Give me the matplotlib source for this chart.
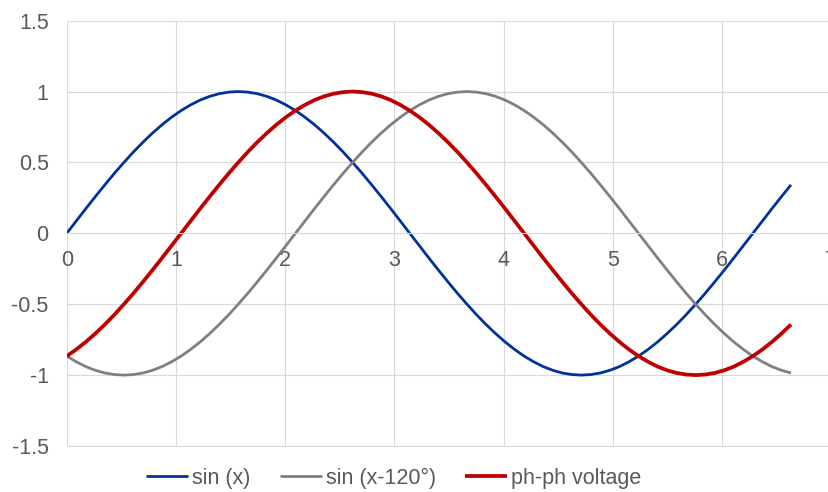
import matplotlib.pyplot as plt
import numpy as np

# angle in degrees, 5 degree steps from 0 to 380
angle_deg = np.arange(0, 381, 5)

sin_x = [0.0, 0.087, 0.174, 0.259, 0.342, 0.423, 0.5, 0.574, 0.643, 0.707,
         0.766, 0.819, 0.866, 0.906, 0.940, 0.966, 0.985, 0.996, 1.0,
         0.996, 0.985, 0.966, 0.940, 0.906, 0.866, 0.819, 0.766, 0.707,
         0.643, 0.574, 0.5, 0.423, 0.342, 0.259, 0.174, 0.087, 0.0,
         -0.087, -0.174, -0.259, -0.342, -0.423, -0.5, -0.574, -0.643, -0.707,
         -0.766, -0.819, -0.866, -0.906, -0.940, -0.966, -0.985, -0.996, -1.0,
         -0.996, -0.985, -0.966, -0.940, -0.906, -0.866, -0.819, -0.766, -0.707,
         -0.643, -0.574, -0.5, -0.423, -0.342, -0.259, -0.174, -0.087, 0.0,
         0.087, 0.174, 0.259, 0.342]

sin_x_120 = [-0.866, -0.906, -0.940, -0.966, -0.985, -0.996, -1.0,
             -0.996, -0.985, -0.966, -0.940, -0.906, -0.866, -0.819, -0.766,
             -0.707, -0.643, -0.574, -0.5, -0.423, -0.342, -0.259, -0.174,
             -0.087, 0.0,
             0.087, 0.174, 0.259, 0.342, 0.423, 0.5, 0.574, 0.643, 0.707,
             0.766, 0.819, 0.866, 0.906, 0.940, 0.966, 0.985, 0.996, 1.0,
             0.996, 0.985, 0.966, 0.940, 0.906, 0.866, 0.819, 0.766, 0.707,
             0.643, 0.574, 0.5, 0.423, 0.342, 0.259, 0.174, 0.087, 0.0,
             -0.087, -0.174, -0.259, -0.342, -0.423, -0.5, -0.574, -0.643,
             -0.707, -0.766, -0.819, -0.866, -0.906, -0.940, -0.966, -0.985]

ph_ph = [-0.866, -0.819, -0.766, -0.707, -0.643, -0.574, -0.5, -0.423,
         -0.342, -0.259, -0.174, -0.087, 0.0,
         0.087, 0.174, 0.259, 0.342, 0.423, 0.5, 0.574, 0.643, 0.707,
         0.766, 0.819, 0.866, 0.906, 0.940, 0.966, 0.985, 0.996, 1.0,
         0.996, 0.985, 0.966, 0.940, 0.906, 0.866, 0.819, 0.766, 0.707,
         0.643, 0.574, 0.5, 0.423, 0.342, 0.259, 0.174, 0.087, 0.0,
         -0.087, -0.174, -0.259, -0.342, -0.423, -0.5, -0.574, -0.643, -0.707,
         -0.766, -0.819, -0.866, -0.906, -0.940, -0.966, -0.985, -0.996, -1.0,
         -0.996, -0.985, -0.966, -0.940, -0.906, -0.866, -0.819, -0.766,
         -0.707, -0.643]

x_ticks = [0, 1, 2, 3, 4, 5, 6, 7]
y_ticks = [-1.5, -1, -0.5, 0, 0.5, 1, 1.5]
y_labels = ["-1.5", "-1", "-0.5", "0", "0.5", "1", "1.5"]

plt.rcParams['font.family'] = ['Liberation Sans', 'DejaVu Sans']
text_color = "#595959"
grid_color = "#D9D9D9"

fig = plt.figure(figsize=(8.29, 4.92), dpi=100)
ax = fig.add_axes([0.0805, 0.0935, 0.9221, 0.8645])

x = np.deg2rad(angle_deg)
ax.plot(x, sin_x, color="#003399", lw=2.0, label="sin (x)", solid_capstyle="butt")
ax.plot(x, sin_x_120, color="#808080", lw=2.0, label="sin (x-120°)", solid_capstyle="butt")
ax.plot(x, ph_ph, color="#C00000", lw=2.7, label="ph-ph voltage", solid_capstyle="butt")

ax.set_xlim(0, 7)
ax.set_ylim(-1.5, 1.5)
ax.set_xticks(x_ticks)
ax.set_yticks(y_ticks)
ax.set_yticklabels(y_labels)
ax.grid(True, color=grid_color, lw=0.8)
ax.set_axisbelow(True)
for gl in ax.get_xgridlines() + ax.get_ygridlines():
    gl.set_clip_on(False)

for s in ["top", "right", "left"]:
    ax.spines[s].set_visible(False)
ax.spines["bottom"].set_position(("data", 0))
ax.spines["bottom"].set_color(grid_color)
ax.spines["bottom"].set_linewidth(0.8)

ax.tick_params(axis="both", length=0, labelsize=15.5, labelcolor=text_color)
ax.tick_params(axis="y", pad=13)
ax.tick_params(axis="x", pad=12)

fig.legend(loc="center", bbox_to_anchor=(0.475, 0.028), ncol=3, frameon=False,
           fontsize=15.5, labelcolor=text_color, handlelength=1.95,
           handletextpad=0.2, columnspacing=1.35)

fig.savefig("out.png", dpi=100)
